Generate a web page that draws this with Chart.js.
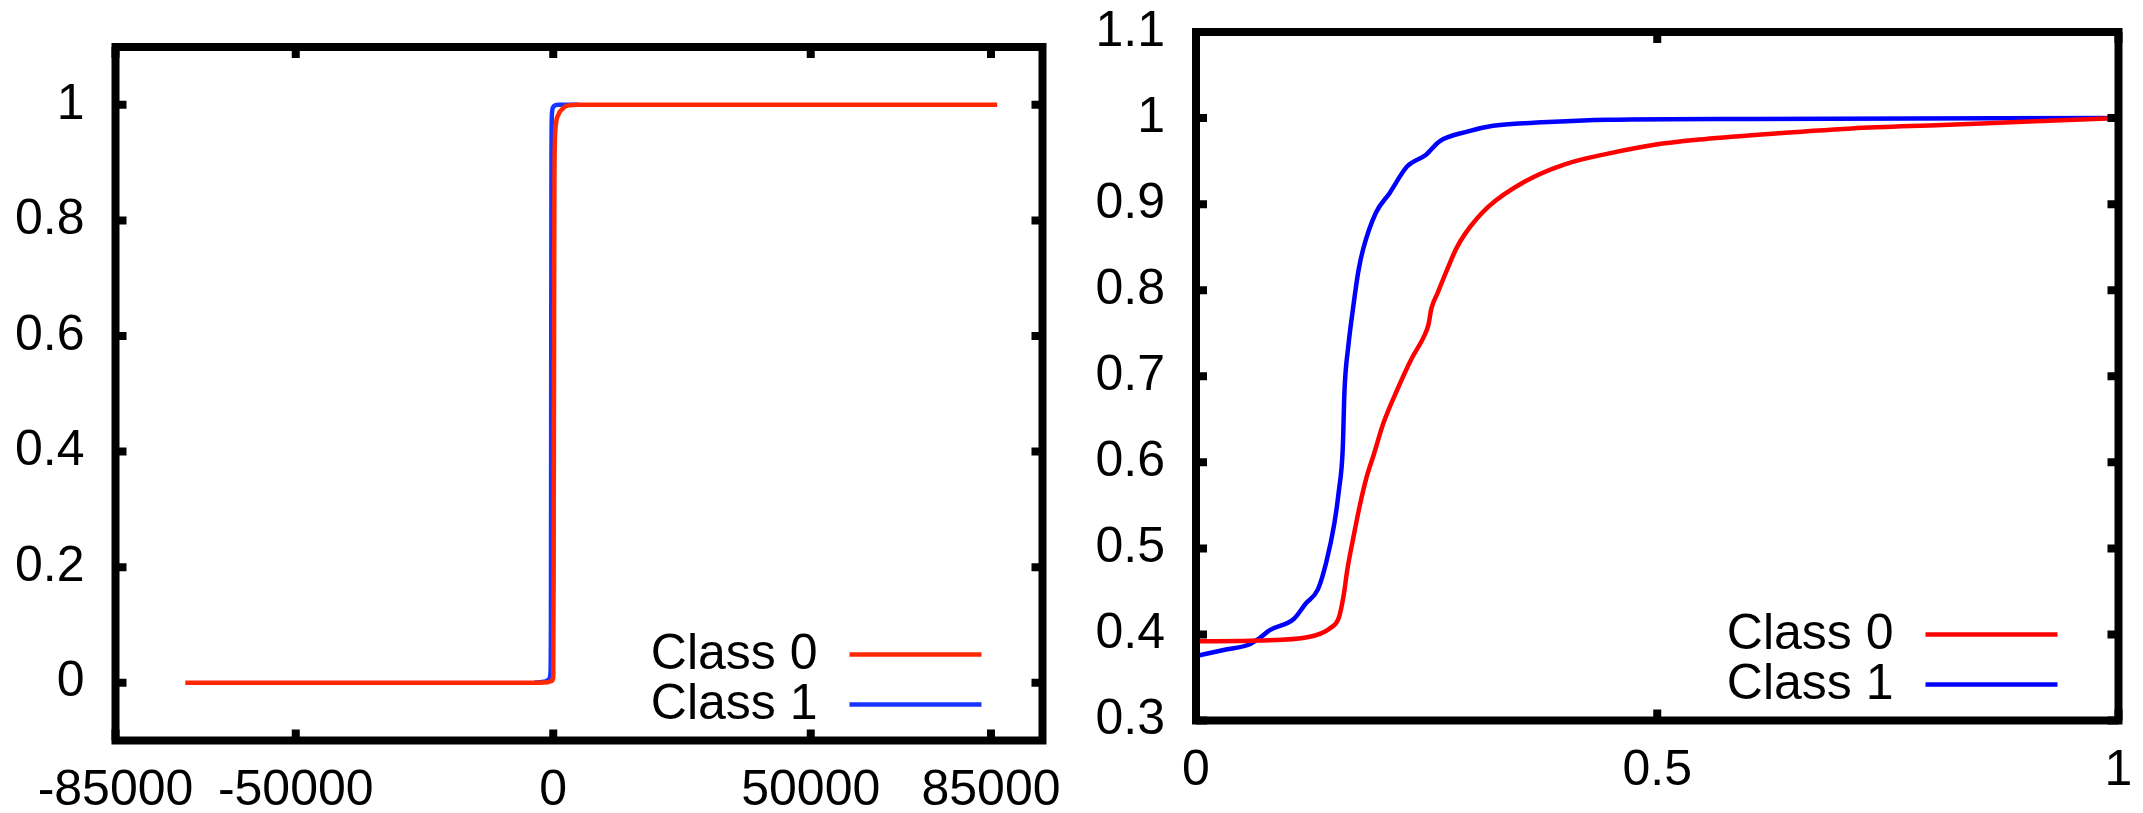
<!DOCTYPE html>
<html>
<head>
<meta charset="utf-8">
<script src="https://cdn.jsdelivr.net/npm/chart.js@4.4.1/dist/chart.umd.min.js"></script>
<style>
  html, body { margin: 0; padding: 0; background: #fff; }
  body { width: 2143px; height: 813px; position: relative; overflow: hidden; }
  canvas { position: absolute; top: 0; }
  #left { left: 0; }
  #right { left: 1080px; }
</style>
</head>
<body>
<canvas id="left" width="1080" height="813"></canvas>
<canvas id="right" width="1063" height="813"></canvas>
<script>
// left panel: raw score distribution
const leftClass0X = [-71450, -20000, -5000, -1000, -300, 0, 80, 150, 220, 300, 500, 1000, 1800, 2600, 5000, 86200];
const leftClass0Y = [0, 0, 0, 0.001, 0.003, 0.01, 0.2, 0.55, 0.85, 0.93, 0.965, 0.983, 0.993, 0.998, 1, 1];
const leftClass1X = [-3700, -1500, -800, -550, -450, -400, -350, -250, 0, 400, 1000, 4950];
const leftClass1Y = [0, 0.002, 0.006, 0.015, 0.1, 0.5, 0.9, 0.985, 0.996, 0.999, 1, 1];
const leftXTicks = [-85000, -50000, 0, 50000, 85000];
const leftXLabels = ['-85000', '-50000', '0', '50000', '85000'];
const leftYTicks = [0, 0.2, 0.4, 0.6, 0.8, 1];
const leftYLabels = ['0', '0.2', '0.4', '0.6', '0.8', '1'];

// right panel: normalised score
const rightClass0X = [0, 0.068, 0.122, 0.145, 0.155, 0.160, 0.164, 0.171, 0.178, 0.185, 0.193, 0.203, 0.218, 0.233, 0.247, 0.252, 0.255, 0.262, 0.273, 0.282, 0.292, 0.317, 0.356, 0.399, 0.448, 0.497, 0.545, 0.613, 0.711, 0.809, 0.903, 1];
const rightClass0Y = [0.392, 0.393, 0.397, 0.407, 0.420, 0.445, 0.475, 0.515, 0.552, 0.583, 0.610, 0.645, 0.684, 0.719, 0.746, 0.760, 0.778, 0.797, 0.826, 0.848, 0.866, 0.897, 0.926, 0.946, 0.959, 0.969, 0.975, 0.981, 0.988, 0.992, 0.996, 1];
const rightClass1X = [0, 0.030, 0.057, 0.068, 0.080, 0.106, 0.119, 0.132, 0.141, 0.150, 0.155, 0.159, 0.161, 0.165, 0.170, 0.176, 0.181, 0.195, 0.210, 0.229, 0.249, 0.264, 0.293, 0.322, 0.375, 0.448, 0.602, 1];
const rightClass1Y = [0.375, 0.382, 0.388, 0.395, 0.405, 0.418, 0.436, 0.452, 0.483, 0.529, 0.568, 0.614, 0.684, 0.734, 0.777, 0.822, 0.847, 0.890, 0.913, 0.944, 0.957, 0.973, 0.984, 0.991, 0.995, 0.998, 0.999, 1];
const rightXTicks = [0, 0.5, 1];
const rightXLabels = ['0', '0.5', '1'];
const rightYTicks = [0.3, 0.4, 0.5, 0.6, 0.7, 0.8, 0.9, 1, 1.1];
const rightYLabels = ['0.3', '0.4', '0.5', '0.6', '0.7', '0.8', '0.9', '1', '1.1'];

const seriesNames = ['Class 0', 'Class 1'];

Chart.defaults.font.family = '"Liberation Sans", Arial, sans-serif';
Chart.defaults.font.size = 50;
Chart.defaults.color = '#000';

function pts(xs, ys) {
    return xs.map((x, i) => ({ x: x, y: ys[i] }));
}

// gnuplot style border with inward ticks on all four sides
const framePlugin = {
    id: 'frame',
    afterDatasetsDraw(chart) {
        const { ctx, chartArea: a, scales } = chart;
        ctx.save();
        ctx.strokeStyle = '#000';
        ctx.lineWidth = 8;
        ctx.lineCap = 'butt';
        ctx.strokeRect(a.left, a.top, a.right - a.left, a.bottom - a.top);
        const len = 11;
        ctx.beginPath();
        scales.x.ticks.forEach(t => {
            const px = scales.x.getPixelForValue(t.value);
            ctx.moveTo(px, a.bottom); ctx.lineTo(px, a.bottom - len);
            ctx.moveTo(px, a.top); ctx.lineTo(px, a.top + len);
        });
        scales.y.ticks.forEach(t => {
            const py = scales.y.getPixelForValue(t.value);
            ctx.moveTo(a.left, py); ctx.lineTo(a.left + len, py);
            ctx.moveTo(a.right, py); ctx.lineTo(a.right - len, py);
        });
        ctx.stroke();
        ctx.restore();
    }
};

// key in the lower right corner: text, then line sample
const keyPlugin = {
    id: 'key',
    afterDatasetsDraw(chart) {
        const { ctx, chartArea: a } = chart;
        ctx.save();
        ctx.font = '50px "Liberation Sans", Arial, sans-serif';
        ctx.fillStyle = '#000';
        ctx.textAlign = 'right';
        ctx.textBaseline = 'middle';
        chart.data.datasets.forEach((ds, i) => {
            const y = a.bottom - 86 + i * 50;
            ctx.fillText(ds.label, a.right - 225, y + 1);
            ctx.strokeStyle = ds.borderColor;
            ctx.lineWidth = ds.borderWidth;
            ctx.beginPath();
            ctx.moveTo(a.right - 193, y);
            ctx.lineTo(a.right - 61, y);
            ctx.stroke();
        });
        ctx.restore();
    }
};

function makeChart(id, sets, xr, yr, box) {
    return new Chart(document.getElementById(id), {
        type: 'line',
        data: {
            datasets: sets.map(s => ({
                label: s.label,
                data: s.data,
                borderColor: s.color,
                borderWidth: 4.5,
                pointRadius: 0,
                cubicInterpolationMode: 'monotone',
                fill: false,
            })),
        },
        options: {
            responsive: false,
            animation: false,
            layout: { padding: { left: 0, top: box.top, right: box.right, bottom: 0 } },
            plugins: { legend: { display: false }, tooltip: { enabled: false } },
            scales: {
                x: {
                    type: 'linear',
                    min: xr.min, max: xr.max,
                    grid: { display: false, drawTicks: false },
                    border: { display: false },
                    afterBuildTicks: s => { s.ticks = xr.ticks.map(v => ({ value: v })); },
                    afterFit: s => { s.height = box.xh; s.paddingLeft = 0; s.paddingRight = 0; },
                    ticks: {
                        padding: 21,
                        maxRotation: 0,
                        autoSkip: false,
                        callback: (v, i) => xr.labels[i],
                    },
                },
                y: {
                    min: yr.min, max: yr.max,
                    grid: { display: false, drawTicks: false },
                    border: { display: false },
                    afterBuildTicks: s => { s.ticks = yr.ticks.map(v => ({ value: v })); },
                    afterFit: s => { s.width = box.yw; s.paddingTop = 0; s.paddingBottom = 0; },
                    ticks: {
                        padding: 31,
                        autoSkip: false,
                        callback: (v, i) => yr.labels[i],
                    },
                },
            },
        },
        plugins: [framePlugin, keyPlugin],
    });
}

makeChart('left', [
    { label: seriesNames[0], data: pts(leftClass0X, leftClass0Y), color: '#ff2800' },
    { label: seriesNames[1], data: pts(leftClass1X, leftClass1Y), color: '#1a34ff' },
], { min: -85000, max: 95000, ticks: leftXTicks, labels: leftXLabels },
   { min: -0.1, max: 1.1, ticks: leftYTicks, labels: leftYLabels },
   { top: 47, right: 1080 - 1042.5, xh: 813 - 740.5, yw: 115.5 });

makeChart('right', [
    { label: seriesNames[0], data: pts(rightClass0X, rightClass0Y), color: '#ff0000' },
    { label: seriesNames[1], data: pts(rightClass1X, rightClass1Y), color: '#0000ff' },
], { min: 0, max: 1, ticks: rightXTicks, labels: rightXLabels },
   { min: 0.3, max: 1.1, ticks: rightYTicks, labels: rightYLabels },
   { top: 32, right: 1063 - 1038.5, xh: 813 - 720.5, yw: 116 });
</script>
</body>
</html>
